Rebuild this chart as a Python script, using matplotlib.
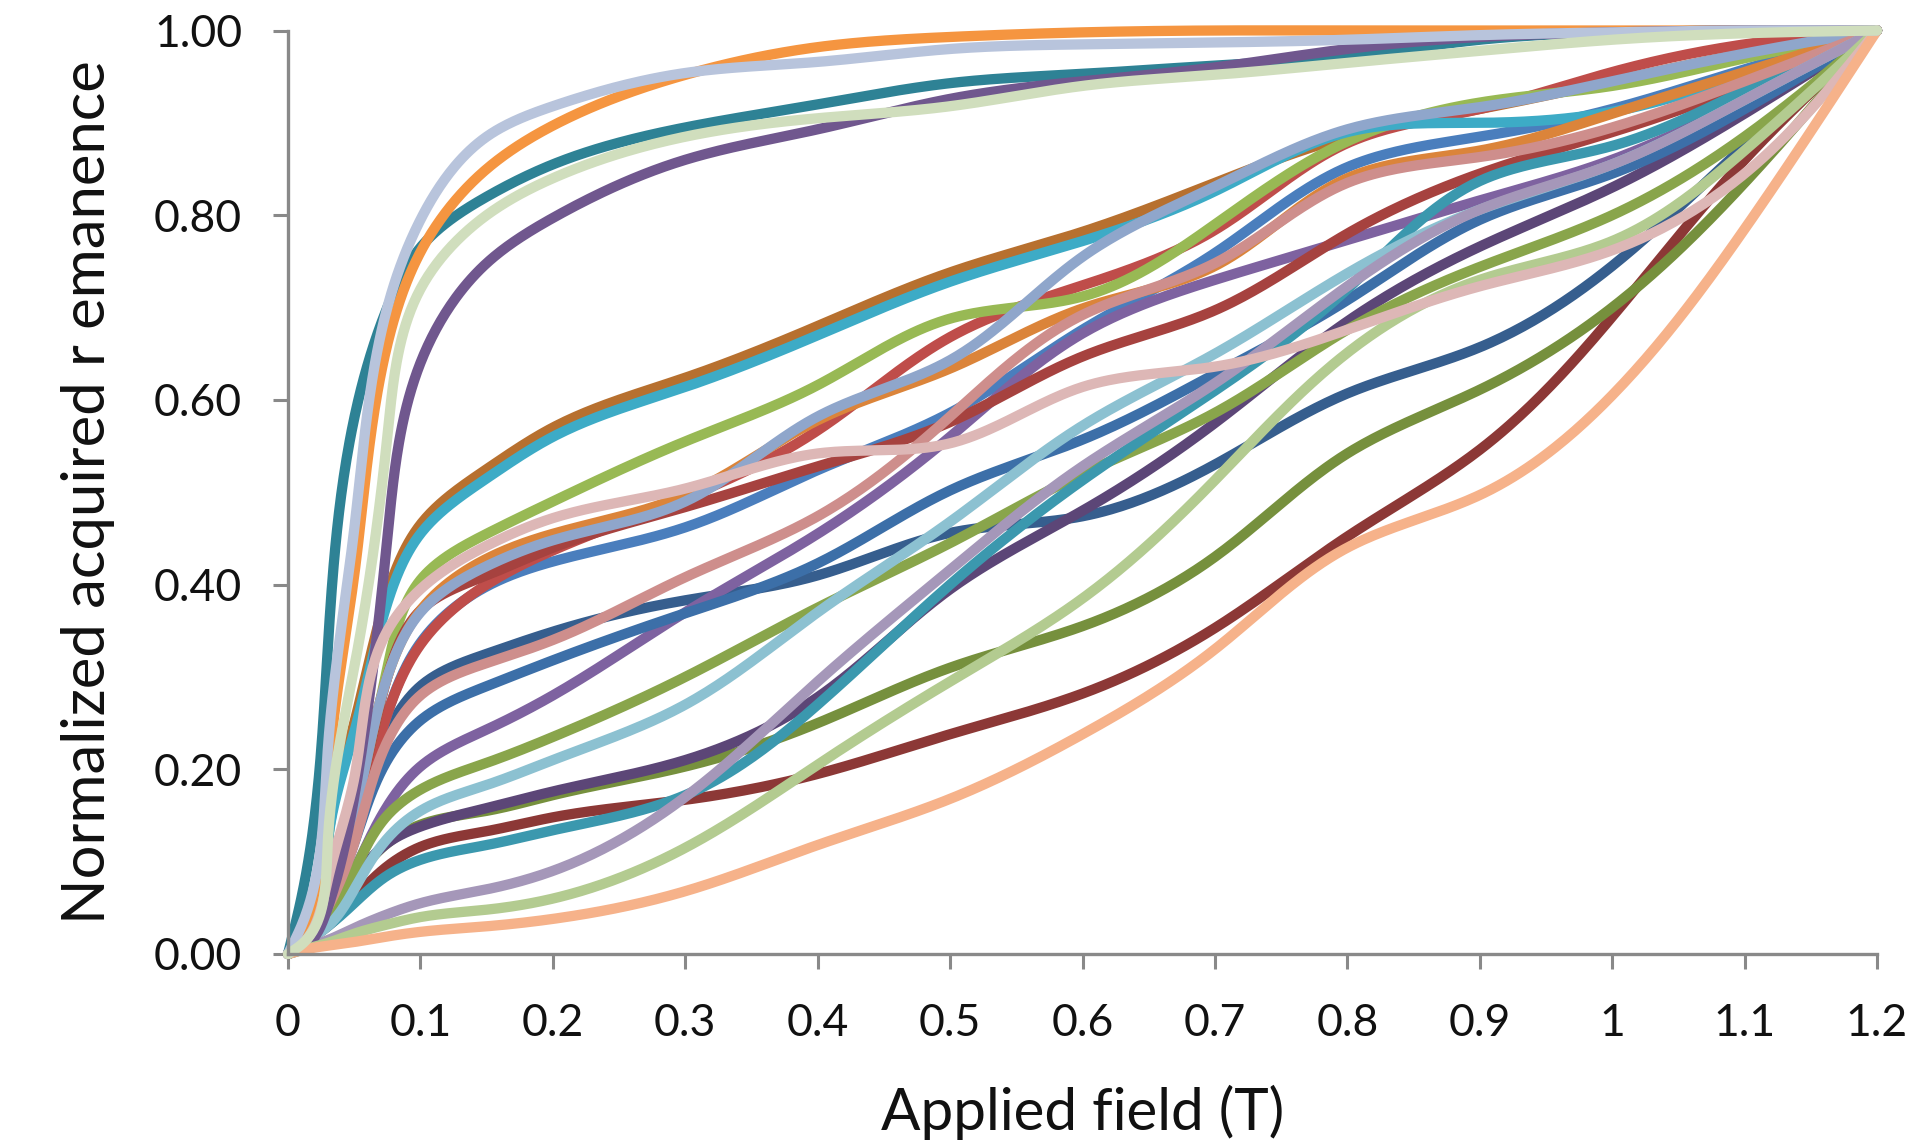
import numpy as np
import matplotlib
matplotlib.use("Agg")
import matplotlib.pyplot as plt

# Applied field steps (T) shared by every IRM acquisition curve
field_T = [0, 0.01, 0.03, 0.05, 0.075, 0.1, 0.15, 0.2, 0.3, 0.4, 0.5,
           0.6, 0.7, 0.8, 0.9, 1.0, 1.1, 1.2]

# Normalized acquired remanence for each sample
teal_dark   = [0, 0.06, 0.33, 0.58, 0.70, 0.765, 0.82, 0.855, 0.895, 0.92, 0.943, 0.953, 0.962, 0.972, 0.99, 0.998, 1.0, 1.0]
lavender    = [0, 0.03, 0.22, 0.46, 0.70, 0.795, 0.885, 0.918, 0.954, 0.966, 0.98, 0.985, 0.987, 0.99, 0.995, 0.998, 1.0, 1.0]
orange_top  = [0, 0.02, 0.18, 0.41, 0.66, 0.76, 0.85, 0.897, 0.952, 0.982, 0.993, 0.998, 1.0, 1.0, 1.0, 1.0, 1.0, 1.0]
pale_green  = [0, 0.01, 0.12, 0.31, 0.56, 0.72, 0.80, 0.84, 0.885, 0.905, 0.918, 0.94, 0.952, 0.965, 0.978, 0.99, 0.997, 1.0]
purple_dark = [0, 0.005, 0.05, 0.17, 0.45, 0.64, 0.748, 0.797, 0.86, 0.893, 0.926, 0.945, 0.96, 0.98, 0.993, 0.998, 1.0, 1.0]

aqua        = [0, 0.01, 0.12, 0.24, 0.38, 0.455, 0.515, 0.56, 0.614, 0.670, 0.728, 0.772, 0.826, 0.89, 0.9, 0.912, 0.952, 1.0]
brown       = [0, 0.01, 0.12, 0.25, 0.39, 0.465, 0.525, 0.57, 0.624, 0.68, 0.738, 0.782, 0.835, 0.885, 0.915, 0.945, 0.975, 1.0]
green       = [0, 0.01, 0.07, 0.16, 0.31, 0.405, 0.455, 0.49, 0.555, 0.616, 0.688, 0.712, 0.79, 0.88, 0.922, 0.94, 0.97, 1.0]
pink        = [0, 0.01, 0.08, 0.19, 0.35, 0.395, 0.442, 0.472, 0.504, 0.542, 0.553, 0.614, 0.636, 0.676, 0.723, 0.762, 0.845, 1.0]
lav_blue    = [0, 0.01, 0.06, 0.15, 0.30, 0.37, 0.42, 0.448, 0.49, 0.582, 0.643, 0.755, 0.831, 0.893, 0.917, 0.945, 0.975, 1.0]
orange_mid  = [0, 0.01, 0.06, 0.15, 0.30, 0.372, 0.428, 0.455, 0.497, 0.578, 0.634, 0.699, 0.745, 0.84, 0.87, 0.91, 0.955, 1.0]
red         = [0, 0.01, 0.05, 0.13, 0.26, 0.335, 0.40, 0.437, 0.494, 0.567, 0.668, 0.724, 0.784, 0.878, 0.915, 0.955, 0.985, 1.0]
red_dark    = [0, 0.01, 0.06, 0.15, 0.30, 0.372, 0.41, 0.44, 0.484, 0.528, 0.576, 0.647, 0.697, 0.78, 0.845, 0.89, 0.94, 1.0]
blue        = [0, 0.01, 0.05, 0.13, 0.26, 0.337, 0.398, 0.425, 0.462, 0.524, 0.586, 0.676, 0.759, 0.852, 0.885, 0.915, 0.958, 1.0]
rose        = [0, 0.01, 0.05, 0.12, 0.23, 0.28, 0.315, 0.34, 0.408, 0.474, 0.582, 0.692, 0.748, 0.835, 0.863, 0.895, 0.945, 1.0]
purple      = [0, 0.01, 0.04, 0.09, 0.16, 0.203, 0.243, 0.28, 0.37, 0.455, 0.56, 0.672, 0.73, 0.773, 0.816, 0.86, 0.925, 1.0]
blue_mid    = [0, 0.01, 0.05, 0.12, 0.21, 0.253, 0.29, 0.318, 0.369, 0.423, 0.502, 0.557, 0.628, 0.708, 0.795, 0.845, 0.915, 1.0]
blue_dark   = [0, 0.01, 0.06, 0.14, 0.24, 0.29, 0.325, 0.349, 0.383, 0.41, 0.456, 0.474, 0.53, 0.607, 0.657, 0.745, 0.875, 1.0]
light_blue  = [0, 0.01, 0.03, 0.07, 0.125, 0.155, 0.183, 0.21, 0.27, 0.37, 0.468, 0.572, 0.65, 0.737, 0.806, 0.855, 0.925, 1.0]
olive       = [0, 0.01, 0.04, 0.09, 0.15, 0.178, 0.207, 0.235, 0.30, 0.375, 0.445, 0.52, 0.586, 0.676, 0.744, 0.80, 0.885, 1.0]
purple_deep = [0, 0.01, 0.04, 0.08, 0.12, 0.138, 0.158, 0.176, 0.21, 0.278, 0.395, 0.48, 0.575, 0.685, 0.766, 0.83, 0.91, 1.0]
lilac       = [0, 0.005, 0.015, 0.028, 0.043, 0.055, 0.07, 0.09, 0.17, 0.295, 0.416, 0.528, 0.618, 0.723, 0.806, 0.855, 0.925, 1.0]
teal_mid    = [0, 0.01, 0.03, 0.055, 0.085, 0.102, 0.118, 0.134, 0.172, 0.27, 0.40, 0.513, 0.61, 0.72, 0.837, 0.875, 0.935, 1.0]
olive_dark  = [0, 0.01, 0.04, 0.08, 0.12, 0.14, 0.155, 0.172, 0.203, 0.25, 0.31, 0.355, 0.43, 0.542, 0.611, 0.7, 0.835, 1.0]
maroon      = [0, 0.01, 0.03, 0.06, 0.095, 0.116, 0.133, 0.148, 0.167, 0.195, 0.238, 0.282, 0.353, 0.452, 0.546, 0.69, 0.86, 1.0]
peach       = [0, 0.004, 0.009, 0.013, 0.019, 0.024, 0.03, 0.038, 0.068, 0.118, 0.168, 0.238, 0.33, 0.44, 0.497, 0.605, 0.785, 1.0]
light_green = [0, 0.004, 0.012, 0.022, 0.032, 0.04, 0.048, 0.06, 0.115, 0.205, 0.295, 0.385, 0.513, 0.651, 0.73, 0.772, 0.87, 1.0]

x_ticks = [0, 0.1, 0.2, 0.3, 0.4, 0.5, 0.6, 0.7, 0.8, 0.9, 1, 1.1, 1.2]
x_tick_labels = ["0", "0.1", "0.2", "0.3", "0.4", "0.5", "0.6", "0.7", "0.8", "0.9", "1", "1.1", "1.2"]
y_ticks = [0, 0.2, 0.4, 0.6, 0.8, 1.0]
y_tick_labels = ["0.00", "0.20", "0.40", "0.60", "0.80", "1.00"]

# drawing order (first = bottom)
series = [
    (blue_dark, "#365E8E"), (maroon, "#8C3836"), (olive_dark, "#76903D"),
    (purple_deep, "#5C4677"), (teal_dark, "#2E8295"), (brown, "#B7702F"),
    (blue, "#4A7EBD"), (red, "#BF4D4A"), (green, "#98B954"),
    (purple, "#7E62A0"), (aqua, "#3DABC6"), (orange_top, "#F59540"),
    (blue_mid, "#3C6FA8"), (red_dark, "#A6423F"), (olive, "#89A54B"),
    (orange_mid, "#DB843A"), (teal_mid, "#3B98AE"), (lav_blue, "#8FA6CB"),
    (rose, "#CE8E8C"), (light_blue, "#8CC1D1"), (lilac, "#A597B9"),
    (purple_dark, "#70578E"), (light_green, "#B3CB90"), (pink, "#DDB7B6"),
    (peach, "#F6B28A"), (lavender, "#B8C4DC"), (pale_green, "#D0DEBD"),
]

SX, SY = 1324.0, 923.5  # pixels per data unit, so the spline bends evenly


def _natural_second_derivs(t, v):
    n = len(t)
    h = np.diff(t)
    A = np.zeros((n, n))
    r = np.zeros(n)
    A[0, 0] = A[-1, -1] = 1.0
    for i in range(1, n - 1):
        A[i, i - 1] = h[i - 1]
        A[i, i] = 2.0 * (h[i - 1] + h[i])
        A[i, i + 1] = h[i]
        r[i] = 6.0 * ((v[i + 1] - v[i]) / h[i] - (v[i] - v[i - 1]) / h[i - 1])
    return np.linalg.solve(A, r)


def smooth_curve(xs, ys, n=40):
    """Parametric natural cubic spline through every point (chord-length knots)."""
    P = np.column_stack([np.asarray(xs, float) * SX, np.asarray(ys, float) * SY])
    t = np.concatenate([[0.0], np.cumsum(np.hypot(*np.diff(P, axis=0).T))])
    out = []
    for k in range(2):
        v = P[:, k]
        M = _natural_second_derivs(t, v)
        pieces = [v[:1]]
        for i in range(len(t) - 1):
            h = t[i + 1] - t[i]
            s = np.linspace(t[i], t[i + 1], n)[1:]
            a, b = t[i + 1] - s, s - t[i]
            pieces.append(M[i] * a ** 3 / (6 * h) + M[i + 1] * b ** 3 / (6 * h)
                          + (v[i] / h - M[i] * h / 6) * a + (v[i + 1] / h - M[i + 1] * h / 6) * b)
        out.append(np.concatenate(pieces))
    return out[0] / SX, out[1] / SY


plt.rcParams["font.family"] = ["Lato", "DejaVu Sans"]

fig = plt.figure(figsize=(19.15, 11.48), dpi=100)
ax = fig.add_axes([288 / 1915, 1 - 954 / 1148, (1877 - 288) / 1915, (954 - 30.5) / 1148])

for vals, col in series:
    sx, sy = smooth_curve(field_T, vals)
    ax.plot(sx, sy, color=col, lw=7.4, solid_capstyle="round",
            solid_joinstyle="round", clip_on=False)

ax.set_xlim(0, 1.2)
ax.set_ylim(0, 1.0)
ax.set_xticks(x_ticks)
ax.set_xticklabels(x_tick_labels)
ax.set_yticks(y_ticks)
ax.set_yticklabels(y_tick_labels)

axis_grey = "#898989"
for side in ("top", "right"):
    ax.spines[side].set_visible(False)
for side in ("left", "bottom"):
    ax.spines[side].set_color(axis_grey)
    ax.spines[side].set_linewidth(2.4)
ax.tick_params(axis="both", direction="out", length=11, width=2.2,
               color=axis_grey, labelsize=32, labelcolor="#111111")
ax.tick_params(axis="x", pad=24)
ax.tick_params(axis="y", pad=22)

ax.set_xlabel("Applied field (T)", fontsize=42, color="#111111", labelpad=30)
ax.set_ylabel("Normalized acquired r emanence", fontsize=43, color="#111111", labelpad=28)

fig.savefig("out.png", dpi=100, facecolor="white")
